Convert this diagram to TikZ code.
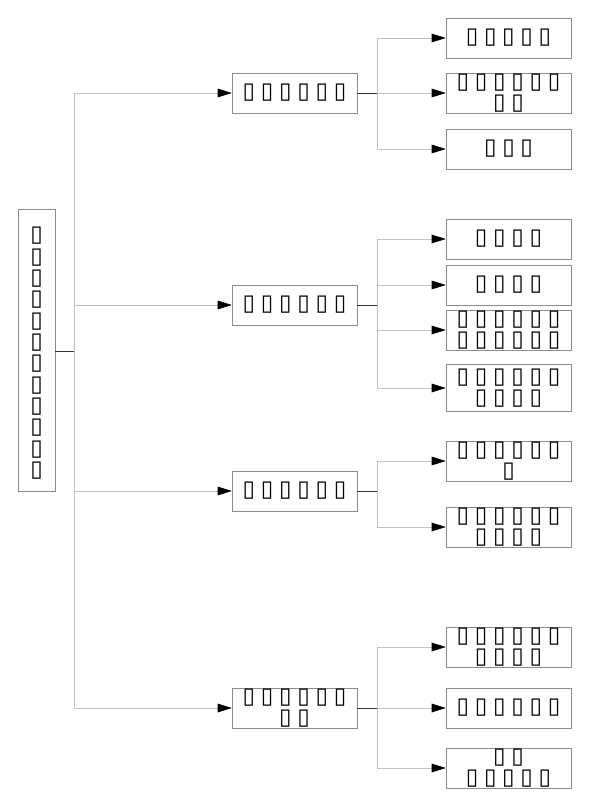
\documentclass[tikz,border=0pt]{standalone}
\usepackage{fontspec}
\newfontfamily\tofu[WordSpace=0.8]{DejaVu Sans}
\usetikzlibrary{arrows.meta,calc}
\definecolor{boxgray}{RGB}{140,140,140}
\definecolor{linegray}{RGB}{195,195,195}
\definecolor{stubgray}{RGB}{50,50,50}
\begin{document}
\begin{tikzpicture}[x=0.75pt,y=-0.75pt,font=\tofu\fontsize{17}{16}\selectfont,
  >={Triangle[length=10.5pt,width=6.5pt,color=black]},
  box/.style={draw=boxgray,minimum width=93.75pt,minimum height=30pt,inner sep=0pt,align=center},
  feed/.style={draw=linegray,->},
  stub/.style={draw=stubgray}]
  \useasboundingbox (0,0) rectangle (589,806);
  \node[box,minimum width=27.75pt,minimum height=211.5pt] (root) at (36.5,350)
    {\mbox{}\\▯\\▯\\▯\\▯\\▯\\▯\\▯\\▯\\▯\\▯\\▯\\▯};
  % middle column
  \foreach \y/\name/\txt in {93/A/{▯ ▯ ▯ ▯ ▯ ▯},305/B/{▯ ▯ ▯ ▯ ▯ ▯},
      491/C/{▯ ▯ ▯ ▯ ▯ ▯},708/D/{▯ ▯ ▯ ▯ ▯ ▯\\▯ ▯}}{
    \node[box] (m\name) at (294.5,\y) {\txt};
  }
  \coordinate (trunk) at ($(root.east)+(19,1)$);
  \draw[stub] (root.east |- trunk) -- (trunk);
  \draw[draw=linegray] (trunk |- mA) -- (trunk |- mD);
  \foreach \name in {A,B,C,D}
    \draw[feed] (trunk |- m\name) -- (m\name.west);
  % branch points
  \foreach \g in {A,B,C,D}{
    \coordinate (b\g) at ($(m\g.east)+(20,0)$);
    \draw[stub] (m\g.east) -- (b\g);
  }
  % right column
  \foreach \g/\y/\name/\h/\txt in {
      A/38/A1/30pt/{▯ ▯ ▯ ▯ ▯},
      A/93/A2/30pt/{▯ ▯ ▯ ▯ ▯ ▯\\▯ ▯},
      A/149/A3/30pt/{▯ ▯ ▯},
      B/239/B1/30pt/{▯ ▯ ▯ ▯},
      B/285/B2/30pt/{▯ ▯ ▯ ▯},
      B/330/B3/30pt/{▯ ▯ ▯ ▯ ▯ ▯\\▯ ▯ ▯ ▯ ▯ ▯},
      B/388/B4/35.25pt/{▯ ▯ ▯ ▯ ▯ ▯\\▯ ▯ ▯ ▯},
      C/461/C1/30pt/{▯ ▯ ▯ ▯ ▯ ▯\\▯},
      C/527/C2/30pt/{▯ ▯ ▯ ▯ ▯ ▯\\▯ ▯ ▯ ▯},
      D/647/D1/30pt/{▯ ▯ ▯ ▯ ▯ ▯\\▯ ▯ ▯ ▯},
      D/708/D2/30pt/{▯ ▯ ▯ ▯ ▯ ▯},
      D/768/D3/30pt/{▯ ▯\\▯ ▯ ▯ ▯ ▯}}{
    \node[box,minimum height=\h] (l\name) at (508.5,\y) {\txt};
    \draw[feed] (b\g |- l\name) -- (l\name.west);
  }
  \draw[draw=linegray] (bA |- lA1) -- (bA |- lA3);
  \draw[draw=linegray] (bB |- lB1) -- (bB |- lB4);
  \draw[draw=linegray] (bC |- lC1) -- (bC |- lC2);
  \draw[draw=linegray] (bD |- lD1) -- (bD |- lD3);
\end{tikzpicture}
\end{document}
